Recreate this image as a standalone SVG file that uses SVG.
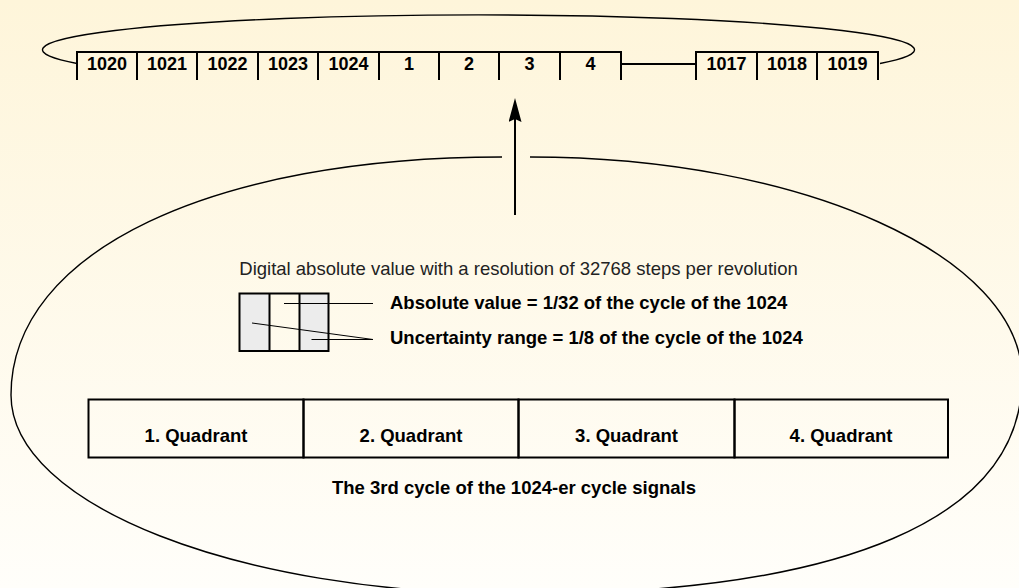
<svg xmlns="http://www.w3.org/2000/svg" width="1019" height="588" viewBox="0 0 1019 588">
<defs>
<linearGradient id="bg" x1="0" y1="0" x2="0" y2="1">
<stop offset="0" stop-color="#FEF5DA"/>
<stop offset="1" stop-color="#FFFEFA"/>
</linearGradient>
<marker id="arrow" viewBox="0 0 24 13" refX="12" refY="6.5" markerWidth="24" markerHeight="13" markerUnits="userSpaceOnUse" orient="auto">
<path d="M0,0 L24,6.5 L0,13 L3,6.5 z" fill="#000"/>
</marker>
<style>
.cell{fill:none;stroke:#000;stroke-width:2}
.ring{fill:none;stroke:#000;stroke-width:1.4}
.b{font-family:"Liberation Sans",Arial,sans-serif;font-weight:bold;fill:#000}
.t18{font-size:18px;text-anchor:middle}
.lbl{font-size:18.5px}
.r{font-family:"Liberation Sans",Arial,sans-serif;font-size:18.5px;fill:#222;text-anchor:middle}
.thin{fill:none;stroke:#000;stroke-width:1}
.box{stroke:#000;stroke-width:2}
</style>
</defs>
<rect x="0" y="0" width="1019" height="588" fill="url(#bg)"/>

<g id="top-ring">
<path class="ring" d="M77,63.5 A436,35 0 1 1 880,63.5"/>
<g id="c1020"><path class="cell" d="M77,80 V52 H137 V80"/><text class="b t18" x="107" y="70">1020</text></g>
<g id="c1021"><path class="cell" d="M137,80 V52 H197 V80"/><text class="b t18" x="167" y="70">1021</text></g>
<g id="c1022"><path class="cell" d="M197,80 V52 H258 V80"/><text class="b t18" x="227.5" y="70">1022</text></g>
<g id="c1023"><path class="cell" d="M258,80 V52 H318 V80"/><text class="b t18" x="288" y="70">1023</text></g>
<g id="c1024"><path class="cell" d="M318,80 V52 H379 V80"/><text class="b t18" x="348.5" y="70">1024</text></g>
<g id="c1"><path class="cell" d="M379,80 V52 H439 V80"/><text class="b t18" x="409" y="70">1</text></g>
<g id="c2"><path class="cell" d="M439,80 V52 H499 V80"/><text class="b t18" x="469" y="70">2</text></g>
<g id="c3"><path class="cell" d="M499,80 V52 H560 V80"/><text class="b t18" x="529.5" y="70">3</text></g>
<g id="c4"><path class="cell" d="M560,80 V52 H621 V80"/><text class="b t18" x="590.5" y="70">4</text></g>
<g id="gap"><path class="cell" d="M621,64 H696"/></g>
<g id="c1017"><path class="cell" d="M696,80 V52 H757 V80"/><text class="b t18" x="726.5" y="70">1017</text></g>
<g id="c1018"><path class="cell" d="M757,80 V52 H817 V80"/><text class="b t18" x="787" y="70">1018</text></g>
<g id="c1019"><path class="cell" d="M817,80 V52 H878 V80"/><text class="b t18" x="847.5" y="70">1019</text></g>
</g>

<g id="connectors">
<line x1="515" y1="215" x2="515" y2="110" stroke="#000" stroke-width="2" marker-end="url(#arrow)"/>
</g>

<g id="cycle-ellipse">
<path class="ring" stroke-width="1.3" d="M502,157 C215,157 11,250 11,395 C11,505 238,594 518,594 C846,594 1022,518 1022,378 C1022,256 802,157 530,157"/>
</g>

<g id="resolution-text">
<text class="r" x="518.5" y="275">Digital absolute value with a resolution of 32768 steps per revolution</text>
</g>

<g id="resolution-box">
<rect x="239.5" y="293.5" width="30" height="57.5" fill="#ECECEC"/>
<rect x="299.5" y="293.5" width="29" height="57.5" fill="#ECECEC"/>
<rect class="box" x="239.5" y="293.5" width="89" height="57.5" fill="none"/>
<line class="box" x1="269.5" y1="293.5" x2="269.5" y2="351"/>
<line class="box" x1="299.5" y1="293.5" x2="299.5" y2="351"/>
<path class="thin" d="M284,303.5 H373"/>
<path class="thin" d="M252,323 L373,339.5 M311.5,339.5 H373"/>
</g>

<g id="label-absolute">
<text class="b lbl" x="390" y="308.5">Absolute value = 1/32 of the cycle of the 1024</text>
</g>
<g id="label-uncertainty">
<text class="b lbl" x="390" y="343.5">Uncertainty range = 1/8 of the cycle of the 1024</text>
</g>

<g id="quadrants">
<g id="q1"><rect class="box" x="88.5" y="399.5" width="215" height="58" fill="none"/><text class="b lbl" x="196" y="442" text-anchor="middle">1. Quadrant</text></g>
<g id="q2"><rect class="box" x="303.5" y="399.5" width="215" height="58" fill="none"/><text class="b lbl" x="411" y="442" text-anchor="middle">2. Quadrant</text></g>
<g id="q3"><rect class="box" x="518.5" y="399.5" width="216" height="58" fill="none"/><text class="b lbl" x="626.5" y="442" text-anchor="middle">3. Quadrant</text></g>
<g id="q4"><rect class="box" x="734.5" y="399.5" width="213.5" height="58" fill="none"/><text class="b lbl" x="841" y="442" text-anchor="middle">4. Quadrant</text></g>
</g>

<g id="caption">
<text class="b lbl" x="514" y="494" text-anchor="middle">The 3rd cycle of the 1024-er cycle signals</text>
</g>
</svg>
